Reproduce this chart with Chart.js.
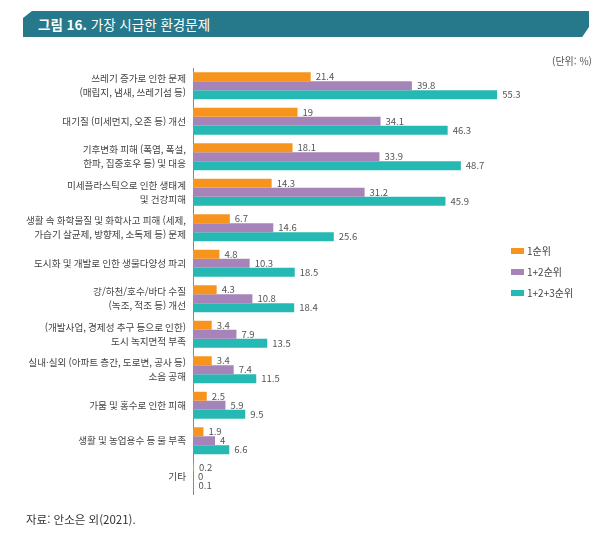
<!DOCTYPE html>
<html lang="ko">
<head>
<meta charset="utf-8">
<script src="https://cdn.jsdelivr.net/npm/chart.js@4"></script>
<style>
  body { margin: 0; background: #fff; font-family: "Noto Sans CJK KR", "Noto Sans", sans-serif; }
  #wrap { position: relative; width: 609px; height: 535px; overflow: hidden; }
  #banner {
    position: absolute; left: 23px; top: 11px; width: 566px; height: 26px;
    background: #26798a;
    clip-path: polygon(9px 0, 100% 0, 100% 62%, 98.8% 100%, 0 100%, 0 7px);
    color: #fff; font-size: 13.5px; line-height: 26px; padding-left: 15px; box-sizing: border-box;
  }
  #banner b { font-weight: 700; }
  #unit { position: absolute; right: 17px; top: 53px; font-size: 10px; color: #555; }
  #source { position: absolute; left: 26px; top: 511px; font-size: 11.5px; color: #333; }
  canvas { position: absolute; left: 0; top: 0; }
</style>
</head>
<body>
<div id="wrap">
  <canvas id="issuesChart" width="609" height="535"></canvas>
  <div id="banner"><b>그림 16.</b> 가장 시급한 환경문제</div>
  <div id="unit">(단위: %)</div>
  <div id="source">자료: 안소은 외(2021).</div>
</div>
<script>
const categories = [
  ["쓰레기 증가로 인한 문제", "(매립지, 냄새, 쓰레기섬 등)"],
  "대기질 (미세먼지, 오존 등) 개선",
  ["기후변화 피해 (폭염, 폭설,", "한파, 집중호우 등) 및 대응"],
  ["미세플라스틱으로 인한 생태계", "및 건강피해"],
  ["생활 속 화학물질 및 화학사고 피해 (세제,", "가습기 살균제, 방향제, 소독제 등) 문제"],
  "도시화 및 개발로 인한 생물다양성 파괴",
  ["강/하천/호수/바다 수질", "(녹조, 적조 등) 개선"],
  ["(개발사업, 경제성 추구 등으로 인한)", "도시 녹지면적 부족"],
  ["실내·실외 (아파트 층간, 도로변, 공사 등)", "소음 공해"],
  "가뭄 및 홍수로 인한 피해",
  "생활 및 농업용수 등 물 부족",
  "기타"
];

const seriesNames = ["1순위", "1+2순위", "1+2+3순위"];
const rank1 = [21.4, 19, 18.1, 14.3, 6.7, 4.8, 4.3, 3.4, 3.4, 2.5, 1.9, 0.2];
const rank12 = [39.8, 34.1, 33.9, 31.2, 14.6, 10.3, 10.8, 7.9, 7.4, 5.9, 4, 0];
const rank123 = [55.3, 46.3, 48.7, 45.9, 25.6, 18.5, 18.4, 13.5, 11.5, 9.5, 6.6, 0.1];

const colors = {
  orange: "rgb(247, 148, 30)",
  purple: "rgb(166, 132, 186)",
  teal: "rgb(38, 184, 178)"
};

const FONT = '"Noto Sans CJK KR", "Noto Sans", sans-serif';

// value labels next to each bar
const valueLabels = {
  id: "valueLabels",
  afterDatasetsDraw(chart) {
    const ctx = chart.ctx;
    ctx.save();
    ctx.font = "9.5px " + FONT;
    ctx.fillStyle = "#555";
    ctx.textAlign = "left";
    ctx.textBaseline = "middle";
    chart.data.datasets.forEach((ds, i) => {
      chart.getDatasetMeta(i).data.forEach((bar, j) => {
        ctx.fillText(String(ds.data[j]), bar.x + 5, bar.y);
      });
    });
    ctx.restore();
  }
};

// legend on the right side
const sideLegend = {
  id: "sideLegend",
  afterDraw(chart) {
    const ctx = chart.ctx;
    ctx.save();
    ctx.font = "10px " + FONT;
    ctx.textBaseline = "middle";
    chart.data.datasets.forEach((ds, i) => {
      const y = 251 + i * 21;
      ctx.fillStyle = ds.backgroundColor;
      ctx.fillRect(511, y - 3, 13, 6);
      ctx.fillStyle = "#444";
      ctx.fillText(ds.label, 527, y);
    });
    ctx.restore();
  }
};

new Chart(document.getElementById("issuesChart"), {
  type: "bar",
  data: {
    labels: categories,
    datasets: [
      { label: seriesNames[0], data: rank1, backgroundColor: colors.orange },
      { label: seriesNames[1], data: rank12, backgroundColor: colors.purple },
      { label: seriesNames[2], data: rank123, backgroundColor: colors.teal }
    ]
  },
  options: {
    indexAxis: "y",
    responsive: false,
    devicePixelRatio: 1,
    animation: false,
    categoryPercentage: 0.76,
    barPercentage: 1,
    layout: {
      padding: { left: 0, top: 68, right: 86, bottom: 41 }
    },
    plugins: {
      legend: { display: false },
      tooltip: { enabled: false }
    },
    scales: {
      x: {
        display: false,
        min: 0,
        max: 60
      },
      y: {
        afterFit(scale) { scale.width = 193; },
        grid: { display: false, drawTicks: false },
        border: { display: true, color: "#888", width: 1 },
        ticks: {
          padding: 7,
          color: "#444",
          font: { family: FONT, size: 9.6, lineHeight: 1.45 }
        }
      }
    }
  },
  plugins: [valueLabels, sideLegend]
});
</script>
</body>
</html>
